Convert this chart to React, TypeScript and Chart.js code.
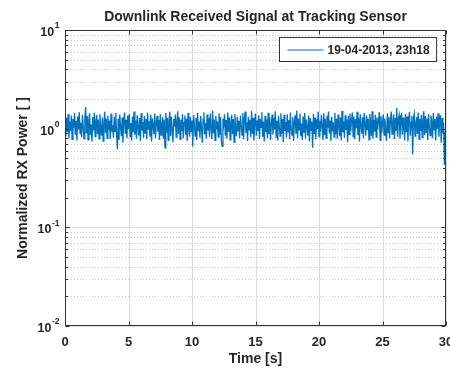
import React, { useEffect, useRef } from 'react';
import { Chart, registerables } from 'chart.js';

Chart.register(...registerables);

const TITLE = 'Downlink Received Signal at Tracking Sensor';
const X_LABEL = 'Time [s]';
const Y_LABEL = 'Normalized RX Power [ ]';
const SERIES_LABEL = '19-04-2013, 23h18';
const X_TICKS = [0, 5, 10, 15, 20, 25, 30];
const Y_DECADES = [0.01, 0.1, 1, 10];
const Y_EXPONENTS = ['-2', '-1', '0', '1'];
const T_START = 0;
const T_STEP = 0.0625;

const RX_POWER = [
  1.12, 0.84, 1.30, 0.92, 1.41, 0.80, 1.18, 0.95, 1.36, 0.78, 1.25, 1.02, 1.44, 0.87, 1.20, 0.76, 1.33, 0.98, 1.47, 0.89,
  1.15, 0.82, 1.38, 1.05, 0.79, 1.28, 1.66, 0.90, 1.34, 0.77, 1.22, 1.43, 0.86, 1.10, 0.74, 1.31, 0.96, 1.45, 0.83, 1.19,
  1.37, 0.88, 1.24, 0.79, 1.40, 1.01, 0.85, 1.29, 0.75, 1.16, 1.48, 0.91, 1.27, 0.80, 1.35, 0.97, 1.21, 0.78, 1.42, 0.93,
  1.08, 0.81, 1.32, 0.94, 1.45, 0.86, 0.62, 1.26, 0.77, 1.39, 1.03, 0.84, 1.30, 0.72, 1.18, 1.46, 0.89, 1.23, 0.80, 1.36,
  0.99, 1.41, 0.83, 1.14, 0.76, 1.33, 0.92, 1.49, 0.87, 1.21, 0.79, 1.37, 1.04, 0.85, 1.28, 0.75, 1.43, 0.96, 1.17, 0.81,
  1.34, 0.90, 1.25, 0.78, 1.46, 0.98, 1.19, 0.83, 1.38, 0.74, 1.27, 1.07, 0.88, 1.42, 0.80, 1.16, 1.35, 0.93, 1.22, 0.77,
  1.40, 0.86, 1.12, 1.31, 0.79, 1.24, 0.64, 1.44, 0.91, 1.29, 0.76, 1.20, 1.48, 0.84, 1.33, 0.97, 0.73, 1.26, 1.05, 1.39,
  0.82, 1.18, 1.50, 0.89, 1.30, 0.78, 1.23, 0.95, 1.41, 0.80, 1.15, 1.36, 0.87, 1.27, 0.75, 1.44, 1.00, 0.83, 1.32, 0.92,
  1.21, 0.66, 1.37, 1.09, 0.84, 1.29, 0.77, 1.45, 0.94, 1.18, 0.81, 1.34, 1.02, 0.72, 1.25, 1.47, 0.88, 1.14, 0.79, 1.39,
  0.96, 1.28, 0.83, 1.42, 1.06, 0.78, 1.52, 0.90, 1.24, 0.76, 1.35, 0.99, 1.19, 0.82, 1.43, 0.87, 1.31, 0.74, 0.66, 1.26,
  1.11, 1.40, 0.85, 1.22, 0.79, 1.46, 0.93, 1.30, 0.77, 1.17, 1.38, 0.88, 1.25, 0.73, 1.41, 1.01, 0.84, 1.33, 0.95, 1.20,
  0.80, 1.36, 1.08, 0.86, 1.44, 0.78, 1.27, 1.49, 0.91, 1.16, 0.75, 1.32, 0.97, 1.23, 0.82, 1.51, 0.89, 1.29, 0.76, 1.14,
  1.42, 0.85, 1.21, 0.94, 1.37, 0.79, 1.26, 1.03, 1.47, 0.83, 1.18, 0.74, 1.34, 0.92, 1.24, 0.80, 1.45, 0.88, 1.30, 0.77,
  1.15, 1.39, 0.87, 1.28, 0.98, 1.50, 0.82, 1.20, 0.76, 1.35, 1.06, 0.84, 1.43, 0.90, 1.25, 0.73, 1.38, 0.95, 1.17, 0.81,
  1.40, 0.93, 1.22, 0.78, 1.46, 1.00, 0.86, 1.31, 0.75, 1.19, 1.37, 0.89, 1.53, 0.80, 1.27, 0.97, 1.42, 0.84, 1.13, 0.77,
  1.33, 0.91, 1.44, 0.79, 1.24, 1.05, 0.85, 1.36, 0.74, 1.28, 0.96, 1.18, 0.64, 1.41, 0.88, 1.30, 0.78, 1.23, 0.99, 1.48,
  0.83, 1.20, 0.93, 1.38, 1.10, 0.77, 1.43, 0.86, 1.26, 0.80, 1.35, 1.02, 1.49, 0.90, 1.21, 0.75, 1.32, 0.94, 1.16, 0.82,
  1.45, 0.88, 1.27, 0.79, 1.39, 1.07, 0.84, 1.30, 0.76, 1.51, 0.92, 1.19, 0.81, 1.37, 0.97, 1.24, 0.73, 1.34, 0.87, 1.42,
  0.95, 1.22, 1.46, 0.83, 1.33, 0.78, 1.25, 1.01, 1.48, 0.86, 1.29, 0.74, 1.40, 1.09, 0.89, 1.31, 0.80, 1.44, 1.12, 0.85,
  1.36, 0.97, 1.26, 0.77, 1.41, 1.18, 0.84, 1.50, 0.79, 1.23, 0.93, 1.38, 0.82, 1.30, 0.99, 1.20, 1.47, 0.76, 1.34, 0.90,
  1.15, 1.39, 0.86, 1.27, 0.96, 0.75, 1.43, 0.91, 1.32, 0.80, 1.24, 1.49, 0.88, 1.17, 1.40, 0.78, 1.29, 0.94, 1.62, 0.83,
  1.25, 1.37, 0.79, 1.19, 1.45, 0.87, 1.30, 1.02, 0.76, 1.41, 0.92, 1.33, 0.74, 1.22, 1.48, 0.85, 1.16, 1.35, 0.55, 1.28,
  1.42, 0.84, 1.12, 1.31, 0.89, 1.46, 0.78, 1.26, 0.95, 1.38, 0.81, 1.20, 1.50, 0.86, 1.34, 0.92, 1.27, 0.77, 1.40, 1.04,
  0.85, 1.36, 1.18, 0.80, 1.44, 0.97, 1.25, 0.76, 1.32, 1.00, 1.43, 0.83, 1.21, 1.37, 0.72, 1.29, 0.90, 1.15, 0.43, 0.88,
  1.10,
];

const FONT = "'Liberation Sans', Arial, Helvetica, sans-serif";
const TEXT = '#262626';
const BLUE = '#0072BD';
const AXIS = '#333333';

const matlabAxes = {
  id: 'matlabAxes',
  beforeDatasetsDraw(chart: any) {
    const { ctx, chartArea: a, scales } = chart;
    const x = scales.x;
    const y = scales.y;
    ctx.save();
    ctx.lineWidth = 1;
    ctx.strokeStyle = '#dcdcdc';
    ctx.setLineDash([]);
    for (const t of X_TICKS) {
      const px = Math.round(x.getPixelForValue(t)) + 0.5;
      ctx.beginPath();
      ctx.moveTo(px, a.top);
      ctx.lineTo(px, a.bottom);
      ctx.stroke();
    }
    for (let d = 0; d < Y_DECADES.length - 1; d++) {
      for (let m = 1; m <= 9; m++) {
        const v = Y_DECADES[d] * m;
        const py = Math.round(y.getPixelForValue(v)) + 0.5;
        if (m === 1) {
          ctx.strokeStyle = '#dcdcdc';
          ctx.setLineDash([]);
        } else {
          ctx.strokeStyle = '#c8c8c8';
          ctx.setLineDash([1, 2]);
        }
        ctx.beginPath();
        ctx.moveTo(a.left, py);
        ctx.lineTo(a.right, py);
        ctx.stroke();
      }
    }
    ctx.restore();
  },
  afterDatasetsDraw(chart: any) {
    const { ctx, chartArea: a, scales } = chart;
    const x = scales.x;
    const y = scales.y;
    ctx.save();
    ctx.setLineDash([]);
    ctx.strokeStyle = AXIS;
    ctx.lineWidth = 1;
    const L = Math.round(a.left) + 0.5;
    const R = Math.round(a.right) - 0.5;
    const T = Math.round(a.top) + 0.5;
    const B = Math.round(a.bottom) - 0.5;
    ctx.strokeRect(L, T, R - L, B - T);
    for (const t of X_TICKS) {
      const px = Math.round(x.getPixelForValue(t)) + 0.5;
      ctx.beginPath();
      ctx.moveTo(px, B);
      ctx.lineTo(px, B - 4);
      ctx.moveTo(px, T);
      ctx.lineTo(px, T + 4);
      ctx.stroke();
    }
    for (let d = 0; d < Y_DECADES.length; d++) {
      const maxM = d === Y_DECADES.length - 1 ? 1 : 9;
      for (let m = 1; m <= maxM; m++) {
        const v = Y_DECADES[d] * m;
        const py = Math.round(y.getPixelForValue(v)) + 0.5;
        const len = m === 1 ? 4 : 2.5;
        ctx.beginPath();
        ctx.moveTo(L, py);
        ctx.lineTo(L + len, py);
        ctx.moveTo(R, py);
        ctx.lineTo(R - len, py);
        ctx.stroke();
      }
    }
    // legend
    ctx.font = `bold 12px ${FONT}`;
    const tw = ctx.measureText(SERIES_LABEL).width;
    const boxW = 8 + 36 + 4 + tw + 7;
    const boxH = 24;
    const bx = Math.round(a.right - 10 - boxW) + 0.5;
    const by = Math.round(a.top + 7) + 0.5;
    ctx.fillStyle = '#ffffff';
    ctx.fillRect(bx, by, boxW, boxH);
    ctx.strokeStyle = AXIS;
    ctx.strokeRect(bx, by, boxW, boxH);
    const ly = Math.round(by + boxH / 2);
    ctx.strokeStyle = BLUE;
    ctx.beginPath();
    ctx.moveTo(bx + 8, ly);
    ctx.lineTo(bx + 44, ly);
    ctx.stroke();
    ctx.fillStyle = TEXT;
    ctx.textAlign = 'left';
    ctx.textBaseline = 'middle';
    ctx.fillText(SERIES_LABEL, bx + 48, ly + 0.5);
    // y tick labels 10^k
    for (let d = 0; d < Y_DECADES.length; d++) {
      const py = y.getPixelForValue(Y_DECADES[d]);
      ctx.font = `bold 8.5px ${FONT}`;
      const ew = ctx.measureText(Y_EXPONENTS[d]).width;
      const right = 59.5;
      ctx.textAlign = 'left';
      ctx.textBaseline = 'middle';
      ctx.fillText(Y_EXPONENTS[d], right - ew, py - 4);
      ctx.font = `bold 12.5px ${FONT}`;
      ctx.textAlign = 'right';
      ctx.fillText('10', right - ew - 0.5, py + 2.5);
    }
    ctx.restore();
  },
};

export default function App() {
  const ref = useRef<HTMLCanvasElement | null>(null);
  useEffect(() => {
    if (!ref.current) return;
    const points = RX_POWER.map((v, i) => ({ x: T_START + i * T_STEP, y: v }));
    const chart = new Chart(ref.current, {
      type: 'line',
      data: {
        datasets: [
          {
            label: SERIES_LABEL,
            data: points,
            borderColor: BLUE,
            borderWidth: 1.3,
            pointRadius: 0,
            fill: false,
            tension: 0,
          },
        ],
      },
      options: {
        animation: false,
        responsive: false,
        events: [],
        layout: { padding: { top: 0, right: 4, bottom: 0, left: 0 } },
        plugins: {
          legend: { display: false },
          tooltip: { enabled: false },
          title: {
            display: true,
            text: TITLE,
            fullSize: false,
            color: TEXT,
            font: { family: FONT, size: 14, weight: 'bold' },
            padding: { top: 8.5, bottom: 4.7 },
          },
        },
        scales: {
          x: {
            type: 'linear',
            min: 0,
            max: 30,
            grid: { display: false, drawTicks: false },
            border: { display: false },
            ticks: {
              stepSize: 5,
              color: TEXT,
              font: { family: FONT, size: 13, weight: 'bold' },
              padding: 9,
              maxRotation: 0,
              autoSkip: false,
            },
            title: {
              display: true,
              text: X_LABEL,
              color: TEXT,
              font: { family: FONT, size: 14, weight: 'bold' },
              padding: { top: 0, bottom: 1 },
            },
            afterFit: (s: any) => {
              s.height = 43;
              s.paddingLeft = 0;
              s.paddingRight = 0;
            },
          },
          y: {
            type: 'logarithmic',
            min: 0.01,
            max: 10,
            grid: { display: false, drawTicks: false },
            border: { display: false },
            ticks: { display: false },
            title: {
              display: true,
              text: Y_LABEL,
              color: TEXT,
              font: { family: FONT, size: 14, weight: 'bold' },
              padding: { top: 14.5, bottom: 0 },
            },
            afterFit: (s: any) => {
              s.width = 65;
              s.paddingTop = 0;
              s.paddingBottom = 0;
            },
          },
        },
      },
      plugins: [matlabAxes],
    } as any);
    return () => chart.destroy();
  }, []);
  return (
    <div style={{ position: 'absolute', left: 0, top: 0, width: 450, height: 369, background: '#fff' }}>
      <canvas ref={ref} width={450} height={369} style={{ display: 'block' }} />
    </div>
  );
}
